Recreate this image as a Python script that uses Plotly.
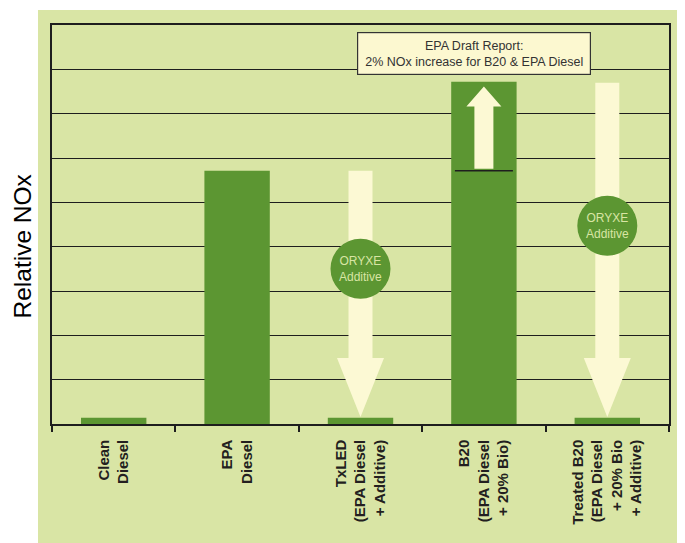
import plotly.graph_objects as go

# ---- data ----
categories = [
    "Clean<br>Diesel",
    "EPA<br>Diesel",
    "TxLED<br>(EPA Diesel<br>+ Additive)",
    "B20<br>(EPA Diesel<br>+ 20% Bio)",
    "Treated B20<br>(EPA Diesel<br>+ 20% Bio<br>+ Additive)",
]
relative_nox = [0.14, 5.71, 0.14, 7.72, 0.14]
y_title = "Relative NOx"

# ---- styles ----
BAR_GREEN = "#5c9632"
PANEL = "#d9e5a5"
CREAM = "#fcf9d4"
FONT = "Liberation Sans, Arial, sans-serif"

fig = go.Figure()
fig.add_trace(go.Bar(
    x=categories, y=relative_nox,
    marker=dict(color=BAR_GREEN, line=dict(width=0)),
    width=0.53, hoverinfo="skip",
))

shapes = []
# panel background
shapes.append(dict(type="rect", xref="paper", yref="paper",
                   x0=-0.0227, x1=1.05, y0=-0.35, y1=1.0376,
                   fillcolor=PANEL, line=dict(width=0), layer="below"))


def down_arrow(idx, top, head_base, tip, sh=12, hh=23.5):
    path = (f"M {-sh},{top} L {sh},{top} L {sh},{head_base} L {hh},{head_base} "
            f"L 0,{tip} L {-hh},{head_base} L {-sh},{head_base} Z")
    return dict(type="path", xref="x", yref="y", xsizemode="pixel", xanchor=idx,
                path=path, fillcolor=CREAM, line=dict(width=0), layer="above")


def up_arrow(idx, bottom, head_base, tip, sh=9.5, hh=17.5):
    path = (f"M {-sh},{bottom} L {sh},{bottom} L {sh},{head_base} L {hh},{head_base} "
            f"L 0,{tip} L {-hh},{head_base} L {-sh},{head_base} Z")
    return dict(type="path", xref="x", yref="y", xsizemode="pixel", xanchor=idx,
                path=path, fillcolor=CREAM, line=dict(width=0), layer="above")


epa, b20 = relative_nox[1], relative_nox[3]
shapes.append(down_arrow(2, epa, 1.49, 0.16))
shapes.append(down_arrow(4, b20 - 0.02, 1.49, 0.16))
shapes.append(up_arrow(3, epa + 0.05, 7.16, 7.61))
# reference line at EPA level inside B20 bar
shapes.append(dict(type="line", xref="x", yref="y", x0=3 - 0.235, x1=3 + 0.235,
                   y0=epa, y1=epa, line=dict(color="#1e1e1e", width=1.5), layer="above"))

circles = [(2, 3.50), (4, 4.47)]
annotations = []
for cx, cy in circles:
    shapes.append(dict(type="circle", xref="x", yref="y", xsizemode="pixel",
                       ysizemode="pixel", xanchor=cx, yanchor=cy,
                       x0=-30, x1=30, y0=-30, y1=30,
                       fillcolor=BAR_GREEN, line=dict(width=0), layer="above"))
    annotations.append(dict(x=cx, y=cy, xref="x", yref="y", text="ORYXE<br>Additive",
                            showarrow=False, font=dict(family=FONT, size=12, color="#d8e5a4")))

annotations.append(dict(
    x=2.92, y=8.35, xref="x", yref="y", showarrow=False,
    text="EPA Draft Report:<br>2% NOx increase for B20 & EPA Diesel",
    font=dict(family=FONT, size=12.5, color="#333333"),
    bgcolor="#fcf8d0", bordercolor="#333333", borderwidth=1.2, borderpad=3,
    width=226, height=35, xanchor="center", yanchor="middle",
))

# y-axis title (placed below plot-area centre, as in the original)
annotations.append(dict(
    x=-0.0486, y=0.445, xref="paper", yref="paper", showarrow=False,
    text=y_title, textangle=-90, xanchor="center", yanchor="middle",
    font=dict(family=FONT, size=24.5, color="black"),
))

fig.update_layout(
    width=685, height=543,
    margin=dict(l=44, r=24, t=17, b=127, autoexpand=False),
    paper_bgcolor="white", plot_bgcolor="rgba(0,0,0,0)",
    showlegend=False,
    shapes=shapes, annotations=annotations,
    font=dict(family=FONT),
)
fig.update_xaxes(
    type="category", categoryorder="array", categoryarray=categories,
    range=[-0.5, 4.5], tickangle=-90, tickson="boundaries",
    tickfont=dict(family=FONT, size=15, color="#231f20", weight="bold"),
    ticks="outside", ticklen=6, tickcolor="#1e1e1e", tickwidth=1.5,
    showline=True, linecolor="#1e1e1e", linewidth=1.5, mirror=True,
    showgrid=False, zeroline=False, ticklabelstandoff=8, automargin=False,
)
fig.update_yaxes(
    range=[0, 9], dtick=1, showticklabels=False, ticks="",
    showgrid=True, gridcolor="#1e1e1e", gridwidth=1.3,
    showline=True, linecolor="#1e1e1e", linewidth=1.5, mirror=True,
    zeroline=False, automargin=False,
)

fig.write_html("out.html")
